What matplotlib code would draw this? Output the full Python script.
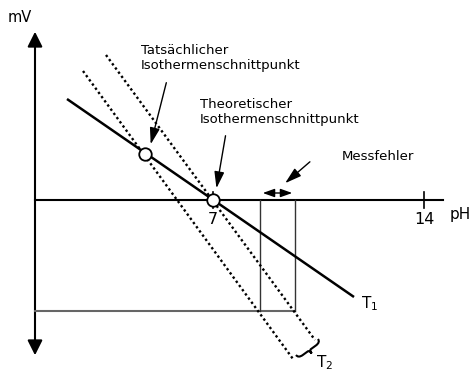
import matplotlib
matplotlib.use("Agg")
import matplotlib.pyplot as plt
from matplotlib.path import Path
import matplotlib.patches as mpatches
import numpy as np

######################
### Data (drawing units = pixels of the reference, y downward)
######################
AXIS_X = 35
AXIS_TOP, AXIS_BOTTOM = 29, 358
PH_Y = 200
PH_END = 443
PH_TICKS = [213, 424]
PH_LABELS = ["7", "14"]

T1_X = [67, 354]
T1_Y = [99, 297]
T2A_X = [83, 293]
T2A_Y = [71, 359]
T2B_X = [106, 315]
T2B_Y = [55, 340]

POINTS_X = [145, 213]
POINTS_Y = [154, 200]

BOX_X = [260, 295]
BOX_BOTTOM = 311

FONT = 9.5

######################
### Draw
######################
fig = plt.figure(figsize=(4.71, 3.72), dpi=100)
ax = fig.add_axes([0, 0, 1, 1])
ax.set_xlim(0, 471)
ax.set_ylim(372, 0)
ax.axis("off")

# mV axis with arrows both ways
ax.plot([AXIS_X, AXIS_X], [AXIS_TOP + 8, AXIS_BOTTOM - 8], color="black", lw=1.5)
for y0, y1 in [(AXIS_TOP + 12, AXIS_TOP), (AXIS_BOTTOM - 12, AXIS_BOTTOM)]:
    ax.annotate("", xy=(AXIS_X, y1), xytext=(AXIS_X, y0),
                arrowprops=dict(arrowstyle="-|>,head_length=0.9,head_width=0.45",
                                color="black", lw=1.5, mutation_scale=10))
ax.text(20, 18, "mV", fontsize=FONT + 1, ha="center", va="center")

# pH axis
ax.plot([AXIS_X, PH_END], [PH_Y, PH_Y], color="black", lw=1.5)
for x, lab in zip(PH_TICKS, PH_LABELS):
    ax.plot([x, x], [PH_Y - 8, PH_Y + 8], color="black", lw=1.2)
    ax.text(x, PH_Y + 19, lab, fontsize=FONT + 2, ha="center", va="center")
ax.text(460, 214, "pH", fontsize=FONT + 1.5, ha="center", va="center")

# measurement error box
ax.plot([AXIS_X, BOX_X[1]], [BOX_BOTTOM, BOX_BOTTOM], color="#666666", lw=1.5)
for x in BOX_X:
    ax.plot([x, x], [PH_Y, BOX_BOTTOM], color="#333333", lw=1.0)
ax.annotate("", xy=(BOX_X[0], 193), xytext=(BOX_X[1], 193),
            arrowprops=dict(arrowstyle="<|-|>,head_length=0.7,head_width=0.25",
                            color="black", lw=1.0, mutation_scale=10))

# T1 and T2 isotherms
ax.plot(T1_X, T1_Y, color="black", lw=1.8, solid_capstyle="butt")
ax.plot(T2A_X, T2A_Y, color="black", lw=1.7, linestyle=(0, (1, 1.2)))
ax.plot(T2B_X, T2B_Y, color="black", lw=1.7, linestyle=(0, (1, 1.2)))

# intersection points
ax.plot(POINTS_X, POINTS_Y, "o", ms=9, mfc="white", mec="black", mew=1.3, zorder=5)

# curly brace at the end of T2
p1 = np.array([296, 355.0])
p2 = np.array([318, 339.0])
u = (p2 - p1) / np.linalg.norm(p2 - p1)
n = np.array([u[1], -u[0]])
if n[1] < 0:
    n = -n
L = np.linalg.norm(p2 - p1)
d = 4.0
local = [(0, 0), (0, d), (L * 0.2, d), (L * 0.5 - 2, d),
         (L * 0.5, d), (L * 0.5, 2 * d),
         (L * 0.5, d), (L * 0.5 + 2, d), (L * 0.8, d), (L, d), (L, 0)]
codes = [Path.MOVETO, Path.CURVE3, Path.CURVE3, Path.LINETO,
         Path.CURVE3, Path.CURVE3,
         Path.CURVE3, Path.CURVE3, Path.LINETO, Path.CURVE3, Path.CURVE3]
verts = [tuple(p1 + a * u + b * n) for a, b in local]
ax.add_patch(mpatches.PathPatch(Path(verts, codes), fill=False, lw=1.5, color="black"))

# labels
ax.text(361, 304, "T$_1$", fontsize=FONT + 1.5, ha="left", va="center")
ax.text(316, 363, "T$_2$", fontsize=FONT + 1.5, ha="left", va="center")

ax.text(141, 58, "Tatsächlicher\nIsothermenschnittpunkt", fontsize=FONT,
        ha="left", va="center", linespacing=1.3)
ax.annotate("", xy=(150, 147), xytext=(167, 80),
            arrowprops=dict(arrowstyle="-|>,head_length=1.0,head_width=0.3",
                            color="black", lw=1.0, mutation_scale=10))

ax.text(200, 112, "Theoretischer\nIsothermenschnittpunkt", fontsize=FONT,
        ha="left", va="center", linespacing=1.3)
ax.annotate("", xy=(216, 191), xytext=(226, 133),
            arrowprops=dict(arrowstyle="-|>,head_length=1.0,head_width=0.3",
                            color="black", lw=1.0, mutation_scale=10))

ax.text(342, 157, "Messfehler", fontsize=FONT, ha="left", va="center")
ax.annotate("", xy=(283, 185), xytext=(312, 160),
            arrowprops=dict(arrowstyle="-|>,head_length=1.0,head_width=0.3",
                            color="black", lw=1.0, mutation_scale=10))

fig.savefig("out.png", dpi=100)
